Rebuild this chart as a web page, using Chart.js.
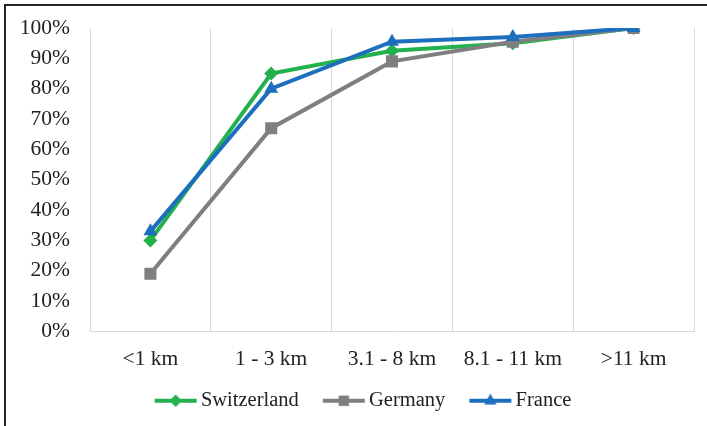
<!DOCTYPE html>
<html>
<head>
<meta charset="utf-8">
<script src="https://cdn.jsdelivr.net/npm/chart.js@4"></script>
<style>
  html,body{margin:0;padding:0;background:#fff}
  #wrap{position:relative;width:707px;height:426px}
  #frame{position:absolute;left:4px;top:4px;right:0;bottom:0;border-left:2px solid #262626;border-top:2px solid #262626;pointer-events:none}
</style>
</head>
<body>
<div id="wrap">
  <canvas id="c" width="707" height="426"></canvas>
  <div id="frame"></div>
</div>
<script>
const categories = ['<1 km', '1 - 3 km', '3.1 - 8 km', '8.1 - 11 km', '>11 km']
const switzerland = [30, 85, 92.5, 95, 100]
const germany = [19, 67, 89, 95.5, 100]
const france = [33, 80, 95.5, 97, 100]
const yTicks = [0, 10, 20, 30, 40, 50, 60, 70, 80, 90, 100]

const font = "'Liberation Serif', 'Times New Roman', serif"
const txt = '#222'

// line+marker swatch for the legend, excel style. canvas is wider than the box
// so the line sits close to the text
function swatch(color, style, r){
  const cv = document.createElement('canvas'); cv.width = 58; cv.height = 18
  const g = cv.getContext('2d')
  g.strokeStyle = color; g.lineWidth = 4; g.lineCap = 'butt'
  g.beginPath(); g.moveTo(14, 9); g.lineTo(56, 9); g.stroke()
  g.fillStyle = color
  Chart.helpers.drawPoint(g, {pointStyle: style, radius: r, rotation: 0, borderWidth: 0}, 35, 9)
  g.fill()
  return cv
}

const series = [
  {label: 'Switzerland', data: switzerland, color: '#22b14c', style: 'rectRot', r: 7, order: 3},
  {label: 'Germany', data: germany, color: '#7f7f7f', style: 'rect', r: 8.5, order: 2},
  {label: 'France', data: france, color: '#1d6fbe', style: 'triangle', r: 8, order: 1}
]

// nudge the legend row to the right, the excel legend is not centred on the canvas
const legendShift = {
  id: 'legendShift',
  afterLayout(chart){ chart.legend.left += 13; chart.legend.right += 13 }
}

new Chart(document.getElementById('c'), {
  type: 'line',
  data: {
    labels: categories,
    datasets: series.map(s => ({
      label: s.label, data: s.data, order: s.order,
      borderColor: s.color, backgroundColor: s.color, borderWidth: 4,
      pointStyle: s.style, pointRadius: s.r, pointBorderWidth: 0,
      pointBackgroundColor: s.color, tension: 0
    }))
  },
  plugins: [legendShift],
  options: {
    responsive: false, animation: false,
    layout: {padding: {top: 28, right: 13, left: 0, bottom: 5}},
    plugins: {
      tooltip: {enabled: false},
      legend: {
        position: 'bottom',
        labels: {
          usePointStyle: true, pointStyleWidth: 42, boxHeight: 14, padding: 18,
          color: txt, font: {family: font, size: 20.5},
          generateLabels: chart => series.map((s, i) => ({
            text: s.label, pointStyle: swatch(s.color, s.style, s.r * 0.85), datasetIndex: i,
            fillStyle: s.color, strokeStyle: s.color, lineWidth: 0, fontColor: txt
          }))
        }
      }
    },
    scales: {
      x: {
        offset: true,
        afterFit: sc => { sc.height = 41; sc.paddingLeft = 0; sc.paddingRight = 0 },
        grid: {offset: true, color: '#d9d9d9', lineWidth: 1, drawTicks: false},
        border: {color: '#d9d9d9', width: 1},
        ticks: {color: txt, font: {family: font, size: 21.5}, padding: 15, maxRotation: 0}
      },
      y: {
        min: 0, max: 100,
        afterFit: sc => { sc.width = 90; sc.paddingTop = 0; sc.paddingBottom = 0 },
        afterBuildTicks: sc => { sc.ticks = yTicks.map(v => ({value: v})) },
        grid: {display: false, drawTicks: false},
        border: {display: false},
        ticks: {color: txt, font: {family: font, size: 21.5}, padding: 20, autoSkip: false, callback: v => v + '%'}
      }
    }
  }
})
</script>
</body>
</html>
